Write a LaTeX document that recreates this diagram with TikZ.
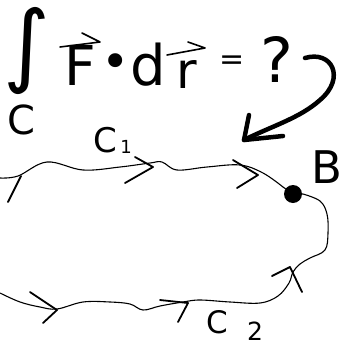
\documentclass[tikz,border=0pt]{standalone}
\usepackage{fontspec}
\newfontfamily\hand{DejaVu Sans}
\tikzset{
  glyph/.style={inner sep=0pt, anchor=base, font=\hand},
  curve/.style={line width=1.1pt, line cap=round, line join=round},
  chev/.style={line width=1.8pt, line cap=round, line join=round},
  harp/.style={line width=1.6pt, line cap=round, line join=round},
  bigarrow/.style={line width=4.5pt, line cap=round, line join=round}
}
\begin{document}
\begin{tikzpicture}[x=1pt,y=-1pt]
\useasboundingbox (0,0) rectangle (344,349);
% formula
\node[inner sep=0pt, font=\hand\fontsize{90}{94}\selectfont] (int) at (27,51) {∫};
\node[glyph, font=\hand\fontsize{40}{46}\selectfont] (cc) at (21,134) {C};
\node[glyph, font=\hand\fontsize{55}{60}\selectfont] (F) at (80,85) {F};
\node[inner sep=0pt, font=\hand\fontsize{48}{52}\selectfont] (dot) at (116,66) {•};
\node[glyph, font=\hand\fontsize{56}{60}\selectfont] (d) at (148,85) {d};
\node[glyph, font=\hand\fontsize{50}{56}\selectfont] (r) at (187,88) {r};
\node[inner sep=0pt, font=\hand\fontsize{30}{34}\selectfont] (eq) at (232,63) {=};
\node[glyph, font=\hand\fontsize{62}{66}\selectfont] (q) at (277,82) {?};
% vector harpoons
\coordinate (fa) at (60,47); \coordinate (fb) at (100,42); \coordinate (fc) at (82,33);
\draw[harp] (fa) -- (fb) -- (fc);
\coordinate (ra) at (167,55); \coordinate (rb) at (205,48); \coordinate (rc) at (188,42);
\draw[harp] (ra) -- (rb) -- (rc);
% big curved arrow
\coordinate (ba) at (305,58);
\coordinate (bt) at (244,140);
\draw[bigarrow] (ba) .. controls (332,50) and (346,78) .. (320,100)
  .. controls (300,118) and (272,126) .. (bt);
\coordinate (bh1) at (249,115); \coordinate (bh2) at (283,136);
\draw[bigarrow] (bh1) -- (bt) -- (bh2);
% point B
\node[circle, fill=black, inner sep=0pt, minimum size=18pt] (B) at (293,194) {};
\node[glyph, font=\hand\fontsize{45}{50}\selectfont] (Blab) at (327,183) {B};
% labels C1, C2
\node[glyph, font=\hand\fontsize{34}{40}\selectfont] (c1) at (105,152) {C};
\node[glyph, font=\hand\fontsize{18}{20}\selectfont] (c1s) at (126,153) {1};
\node[glyph, font=\hand\fontsize{31}{36}\selectfont] (c2) at (217,333) {C};
\node[glyph, font=\hand\fontsize{25}{30}\selectfont] (c2s) at (255,340) {2};
% upper path C1
\draw[curve] plot[smooth, tension=0.6] coordinates {(0,178) (18,176) (47,162) (83,170) (120,167) (150,163) (162,162) (177,170) (207,167) (240,165) (263,173) (283,187)} -- (B.center);
\coordinate (s1) at (21,176); \coordinate (s2) at (8,202);
\draw[chev] (s1) -- (s2);
\draw[chev] (135,157) -- (153,167) -- (125,183);
\draw[chev] (233,160) -- (258,175) -- (237,188);
% lower path C2
\draw[curve] (B.center) -- plot[smooth, tension=0.6] coordinates {(303,194) (320,201) (327,214) (328,233) (325,250) (310,258) (300,264) (293,272) (289,283) (278,296) (260,303) (230,302) (200,300) (183,302) (160,306) (143,310) (130,304) (110,302) (83,302) (57,309) (40,307) (20,302) (0,293)};
\draw[chev] (272,276) -- (290,267) -- (302,292);
\draw[chev] (30,292) -- (57,310) -- (43,323);
\draw[chev] (160,300) -- (188,303) -- (178,322);
\end{tikzpicture}
\end{document}
